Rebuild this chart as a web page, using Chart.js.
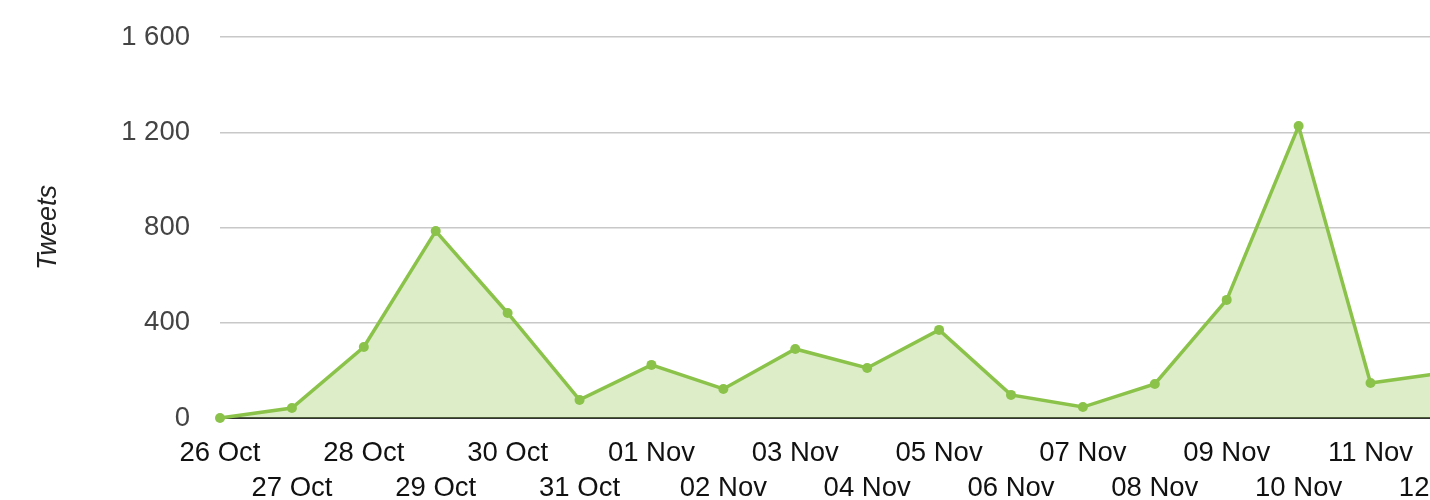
<!DOCTYPE html>
<html>
<head>
<meta charset="utf-8">
<script src="https://cdn.jsdelivr.net/npm/chart.js@4/dist/chart.umd.min.js"></script>
<style>
  html, body { margin: 0; padding: 0; background: #fff; overflow: hidden; }
  #wrap { width: 1504px; height: 500px; }
</style>
</head>
<body>
<div id="wrap"><canvas id="grafico"></canvas></div>
<script>
// Dias (eixo x)
const dias = ['26 Oct', '27 Oct', '28 Oct', '29 Oct', '30 Oct', '31 Oct', '01 Nov', '02 Nov', '03 Nov',
  '04 Nov', '05 Nov', '06 Nov', '07 Nov', '08 Nov', '09 Nov', '10 Nov', '11 Nov', '12 Nov']

// Tweets por dia
const tweets = [0, 42, 298, 785, 441, 76, 223, 122, 290, 210, 370, 97, 46, 143, 496, 1226, 147, 189]

// Ticks do eixo y
const ticksY = [0, 400, 800, 1200, 1600]

const verde = 'rgb(139, 195, 74)'

const ctx = document.getElementById('grafico')

const grafico = new Chart(ctx, {
  type: 'line',
  data: {
    labels: dias,
    datasets: [{
      label: 'Tweets',
      data: tweets,
      borderColor: verde,
      backgroundColor: 'rgba(139, 195, 74, 0.3)',
      borderWidth: 3.5,
      fill: 'origin',
      tension: 0,
      clip: false,
      pointRadius: 5,
      pointBackgroundColor: verde,
      pointBorderWidth: 0
    }]
  },
  options: {
    responsive: true,
    maintainAspectRatio: false,
    animation: false,
    layout: { padding: { top: 37, right: 0, left: 0, bottom: 0 } },
    plugins: { legend: { display: false }, tooltip: { enabled: false } },
    scales: {
      x: {
        afterFit: function (axis) { axis.height = 82 },
        grid: { display: false, drawTicks: false },
        border: { color: '#333', width: 2 },
        ticks: {
          autoSkip: false,
          maxRotation: 0,
          padding: 18,
          color: '#111',
          font: { family: 'Liberation Sans', size: 27.5, lineHeight: 1.28 },
          callback: function (v, i) {
            return i % 2 === 0 ? [dias[i], ''] : ['', dias[i]]
          }
        }
      },
      y: {
        min: ticksY[0],
        max: ticksY[ticksY.length - 1],
        afterBuildTicks: function (axis) {
          axis.ticks = ticksY.map(v => ({ value: v }))
        },
        afterFit: function (axis) {
          axis.width = 220
          axis.paddingTop = 0
          axis.paddingBottom = 0
        },
        border: { display: false },
        grid: {
          drawTicks: false,
          lineWidth: 1.5,
          color: c => c.tick.value === 0 ? 'rgba(0,0,0,0)' : '#c8c8c8'
        },
        ticks: {
          padding: 30,
          color: '#444',
          font: { family: 'Liberation Sans', size: 27.5 },
          callback: v => String(v).replace(/\B(?=(\d{3})+(?!\d))/g, ' ')
        },
        title: {
          display: true,
          text: 'Tweets',
          color: '#222',
          padding: { top: 32, bottom: 0 },
          font: { family: 'Liberation Sans', size: 27, style: 'italic' }
        }
      }
    }
  }
})
</script>
</body>
</html>
